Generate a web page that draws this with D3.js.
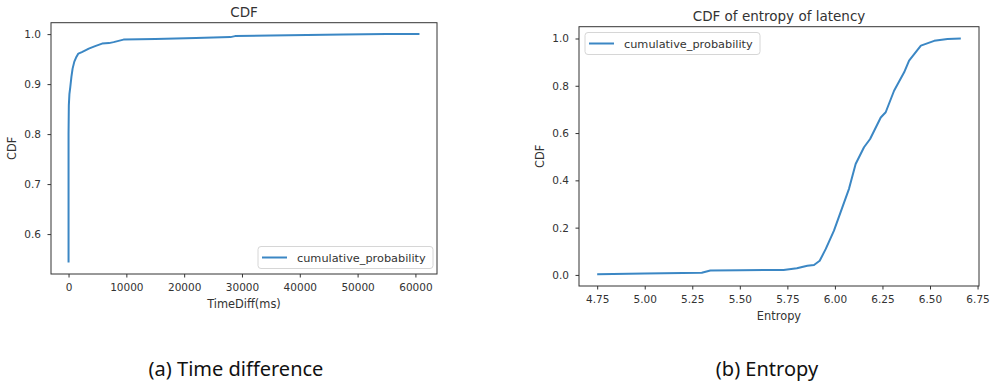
<!DOCTYPE html>
<html>
<head>
<meta charset="utf-8">
<script src="https://cdn.jsdelivr.net/npm/d3@7"></script>
<style>
  body { margin: 0; background: #fff; }
  svg text { font-family: "DejaVu Sans", sans-serif; fill: #333; }
  .caption { font-family: "Noto Sans", sans-serif; fill: #111; }
</style>
</head>
<body>
<svg id="canvas" width="996" height="384"></svg>
<script>
// (a) time difference CDF
const timeDiff = [0, 0, 50, 150, 300, 500, 700, 1000, 1300, 1700, 2300, 3000, 3500, 4600, 5800, 7000, 7800, 9500, 15000, 22000, 28000, 28800, 35000, 47500, 55000, 60700];
const timeCdf = [0.543, 0.80, 0.858, 0.88, 0.894, 0.915, 0.931, 0.945, 0.953, 0.961, 0.964, 0.968, 0.971, 0.976, 0.981, 0.982, 0.984, 0.989, 0.990, 0.992, 0.994, 0.996, 0.997, 0.999, 1.0, 1.0];
const timeXTicks = [0, 10000, 20000, 30000, 40000, 50000, 60000];
const timeYTicks = [0.6, 0.7, 0.8, 0.9, 1.0];

// (b) entropy CDF
const entropy = [4.75, 5.00, 5.30, 5.345, 5.50, 5.73, 5.80, 5.855, 5.89, 5.92, 5.952, 5.995, 6.039, 6.074, 6.109, 6.153, 6.185, 6.241, 6.267, 6.311, 6.364, 6.39, 6.452, 6.522, 6.592, 6.662];
const entropyCdf = [0.003, 0.006, 0.009, 0.019, 0.020, 0.021, 0.028, 0.039, 0.042, 0.06, 0.11, 0.187, 0.286, 0.364, 0.469, 0.54, 0.575, 0.666, 0.688, 0.779, 0.857, 0.906, 0.97, 0.99, 0.998, 1.0];
const entropyXTicks = [4.75, 5.0, 5.25, 5.5, 5.75, 6.0, 6.25, 6.5, 6.75];
const entropyYTicks = [0.0, 0.2, 0.4, 0.6, 0.8, 1.0];

const svg = d3.select("#canvas");
const lineColor = "#3b87c4";

// matplotlib style 5% margin around the data
function padded(vals) {
  const [lo, hi] = d3.extent(vals);
  const m = (hi - lo) * 0.05;
  return [lo - m, hi + m];
}

function drawPanel(opt) {
  const x = d3.scaleLinear().domain(padded(opt.xs)).range([opt.left, opt.right]);
  const y = d3.scaleLinear().domain(padded(opt.ys)).range([opt.bottom, opt.top]);
  const g = svg.append("g");

  g.append("rect")
    .attr("x", opt.left).attr("y", opt.top)
    .attr("width", opt.right - opt.left).attr("height", opt.bottom - opt.top)
    .attr("fill", "none").attr("stroke", "#333").attr("stroke-width", 1);

  const xAxis = g.append("g")
    .attr("transform", `translate(0,${opt.bottom})`)
    .call(d3.axisBottom(x).tickValues(opt.xTicks).tickFormat(opt.xFmt).tickSize(3.5).tickPadding(6.5));
  const yAxis = g.append("g")
    .attr("transform", `translate(${opt.left},0)`)
    .call(d3.axisLeft(y).tickValues(opt.yTicks).tickFormat(d3.format(".1f")).tickSize(3.5).tickPadding(6.5));
  [xAxis, yAxis].forEach(a => {
    a.select(".domain").remove();
    a.selectAll(".tick line").attr("stroke", "#333");
    a.selectAll(".tick text").attr("fill", "#333").style("font-size", "10.5px")
      .style("font-family", "DejaVu Sans");
  });

  const pts = opt.xs.map((v, i) => [v, opt.ys[i]]);
  g.append("path")
    .datum(pts)
    .attr("fill", "none")
    .attr("stroke", lineColor)
    .attr("stroke-width", 2)
    .attr("stroke-linejoin", "round")
    .attr("d", d3.line().x(d => x(d[0])).y(d => y(d[1])));

  const cx = (opt.left + opt.right) / 2;
  g.append("text")
    .attr("x", cx).attr("y", opt.top - 6)
    .attr("text-anchor", "middle")
    .style("font-size", "13.5px")
    .text(opt.title);

  g.append("text")
    .attr("x", cx).attr("y", opt.bottom + 34)
    .attr("text-anchor", "middle")
    .style("font-size", "11.4px")
    .text(opt.xLabel);

  g.append("text")
    .attr("transform", `translate(${opt.yLabelX},${(opt.top + opt.bottom) / 2}) rotate(-90)`)
    .attr("text-anchor", "middle")
    .style("font-size", "11.4px")
    .text("CDF");

  // legend
  const lg = g.append("g").attr("transform", `translate(${opt.legend[0]},${opt.legend[1]})`);
  lg.append("rect")
    .attr("width", 175).attr("height", 22).attr("rx", 3)
    .attr("fill", "#fff").attr("fill-opacity", 0.8)
    .attr("stroke", "#d6d6d6");
  lg.append("line")
    .attr("x1", 4).attr("x2", 29).attr("y1", 11).attr("y2", 11)
    .attr("stroke", lineColor).attr("stroke-width", 2);
  lg.append("text")
    .attr("x", 39).attr("y", 15)
    .style("font-size", "11.3px")
    .text("cumulative_probability");

  svg.append("text")
    .attr("class", "caption")
    .attr("x", opt.captionX).attr("y", 376)
    .attr("text-anchor", "middle")
    .style("font-size", "20px")
    .text(opt.caption);
}

drawPanel({
  xs: timeDiff, ys: timeCdf, xTicks: timeXTicks, yTicks: timeYTicks,
  xFmt: d3.format("d"),
  left: 51, right: 437, top: 22.7, bottom: 274,
  title: "CDF", xLabel: "TimeDiff(ms)", yLabelX: 16,
  legend: [258, 246.5], caption: "(a) Time difference", captionX: 236
});

drawPanel({
  xs: entropy, ys: entropyCdf, xTicks: entropyXTicks, yTicks: entropyYTicks,
  xFmt: d3.format(".2f"),
  left: 579, right: 979, top: 26.7, bottom: 286,
  title: "CDF of entropy of latency", xLabel: "Entropy", yLabelX: 544,
  legend: [585, 32.5], caption: "(b) Entropy", captionX: 767
});
</script>
</body>
</html>
